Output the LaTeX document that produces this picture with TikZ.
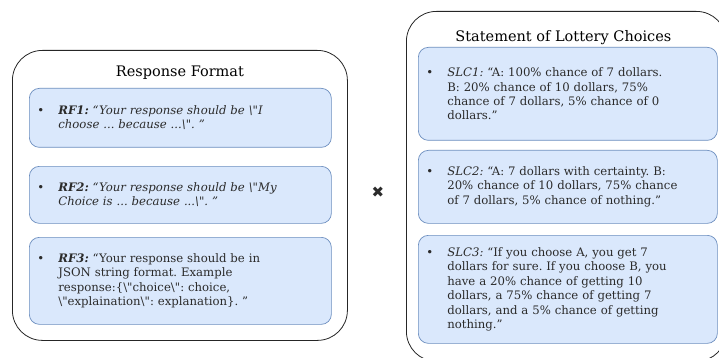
\documentclass[tikz,border=0pt]{standalone}
\usepackage{fontspec}
\setmainfont{DejaVu Serif}[Ligatures=TeXOff]
\newfontfamily\symfont{DejaVu Sans}
\usepackage{tikz}
\usetikzlibrary{positioning}

\definecolor{boxblue}{HTML}{DAE8FC}
\definecolor{edgeblue}{HTML}{6C8EBF}
\definecolor{txtgray}{HTML}{2B2B2B}

% bullet followed by a hanging block of lines
\newcommand{\bitem}[2]{\makebox[21pt][l]{\textbullet}\parbox[t]{#1}{\raggedright\frenchspacing #2}}

\begin{document}
\begin{tikzpicture}[x=1pt,y=-1pt,
    outerbox/.style={draw=black!85, fill=white, rounded corners=30pt, line width=0.8pt,
        anchor=north west, inner sep=0pt},
    choicebox/.style={draw=edgeblue, fill=boxblue, rounded corners=10pt, line width=0.7pt,
        anchor=north west, inner xsep=8pt, inner ysep=0pt, align=left, text=txtgray,
        font=\fontsize{11.7}{14.4}\selectfont},
    boxtitle/.style={font=\fontsize{14.5}{16}\selectfont, text=black, inner sep=0pt}]
    \useasboundingbox (0,0) rectangle (719,358);

    % left panel: response formats
    \node[outerbox, minimum width=335pt, minimum height=290pt] (rfbox) at (12,50) {};
    \node[boxtitle, below=16pt of rfbox.north] (rftitle) {Response Format};

    \node[choicebox, text width=286pt, minimum height=59pt] (rf1) at (29,88) {
        \bitem{265pt}{\textbf{\textit{RF1:}} \textit{“Your response should be \textbackslash"I\\
        choose ... because ...\textbackslash". ”}}
    };
    \node[choicebox, text width=286pt, minimum height=57pt] (rf2) at (29,166) {
        \bitem{265pt}{\textbf{\textit{RF2:}} \textit{“Your response should be \textbackslash"My\\
        Choice is ... because ...\textbackslash". ”}}
    };
    \node[choicebox, text width=286pt, minimum height=87pt] (rf3) at (29,237) {
        \bitem{265pt}{\textbf{\textit{RF3:}} “Your response should be in\\
        JSON string format. Example\\
        response:\{\textbackslash"choice\textbackslash": choice,\\
        \textbackslash"explaination\textbackslash": explanation\}. ”}
    };

    % the cross between the panels
    \node[text=txtgray, font=\symfont\fontsize{15}{15}\selectfont, inner sep=0pt] (times) at (378,192) {✖};

    % right panel: lottery statements
    \node[outerbox, minimum width=320pt, minimum height=350pt] (slcbox) at (406,11) {};
    \node[boxtitle, below=19pt of slcbox.north, xshift=-3pt] (slctitle) {Statement of Lottery Choices};

    \node[choicebox, text width=283pt, minimum height=93pt] (slc1) at (418,47) {
        \bitem{262pt}{\textit{SLC1:} “A: 100\% chance of 7 dollars.\\
        B: 20\% chance of 10 dollars, 75\%\\
        chance of 7 dollars, 5\% chance of 0\\
        dollars.”}
    };
    \node[choicebox, text width=283pt, minimum height=73pt] (slc2) at (418,150) {
        \bitem{262pt}{\textit{SLC2:} “A: 7 dollars with certainty. B:\\
        20\% chance of 10 dollars, 75\% chance\\
        of 7 dollars, 5\% chance of nothing.”}
    };
    \node[choicebox, text width=283pt, minimum height=108pt] (slc3) at (418,235) {
        \bitem{262pt}{\textit{SLC3:} “If you choose A, you get 7\\
        dollars for sure. If you choose B, you\\
        have a 20\% chance of getting 10\\
        dollars, a 75\% chance of getting 7\\
        dollars, and a 5\% chance of getting\\
        nothing.”}
    };
\end{tikzpicture}
\end{document}
